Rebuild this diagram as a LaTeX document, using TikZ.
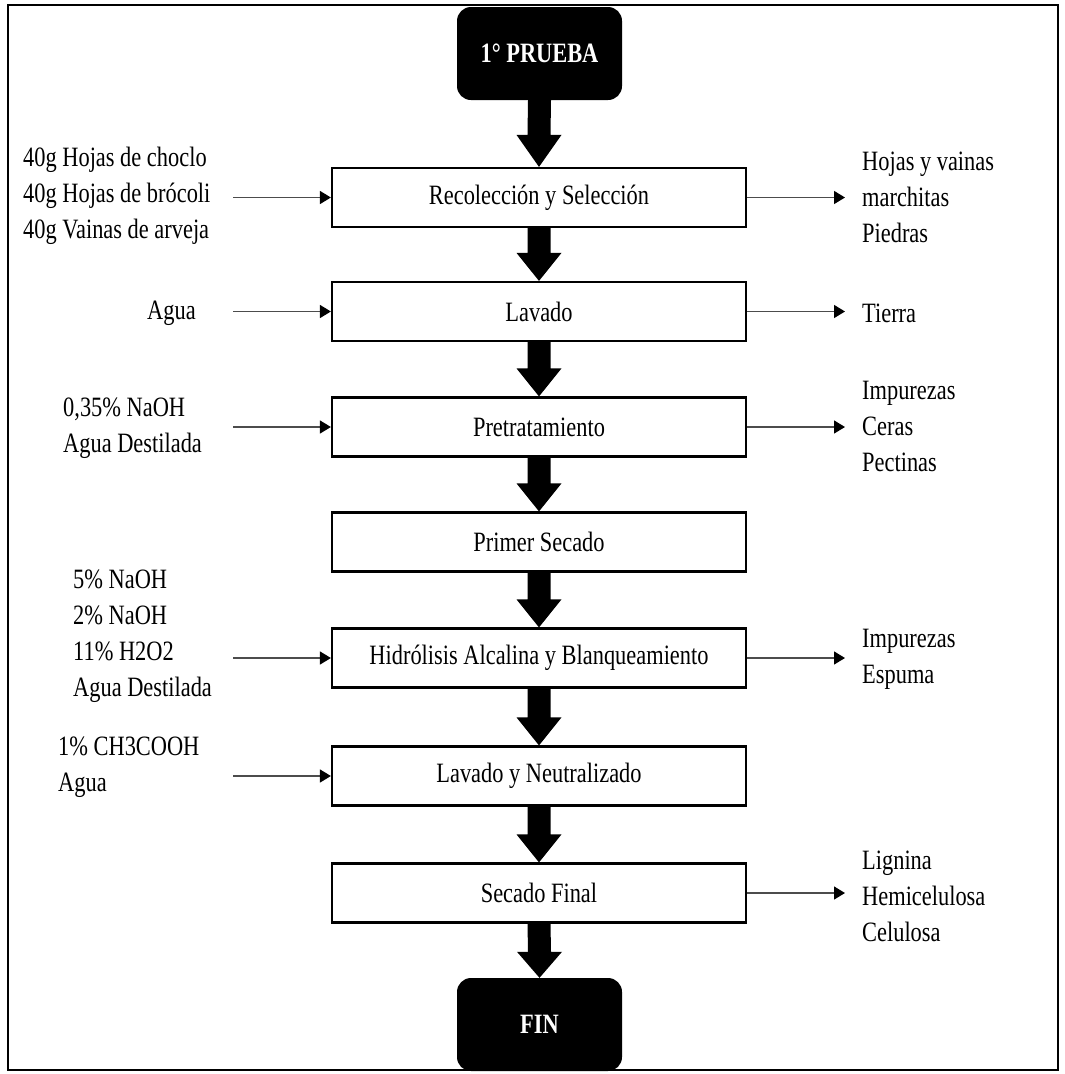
\documentclass[tikz,border=0pt]{standalone}
\usepackage{fontspec}
\setmainfont{Liberation Serif}[FakeStretch=0.8]
\usepackage{graphicx}
\usetikzlibrary{calc,arrows.meta}
\newcommand\bigarr[3][28]{%
  \fill[black] ($(#2.south)+(-11.5,0)$) -- ($(#3.north)+(-11.5,-#1)$) -- ($(#3.north)+(-22.5,-#1)$) -- (#3.north) -- ($(#3.north)+(22.5,-#1)$) -- ($(#3.north)+(11.5,-#1)$) -- ($(#2.south)+(11.5,0)$) -- cycle;}
\begin{document}
\begin{tikzpicture}[x=1pt,y=-1pt,
  every node/.style={font=\fontsize{28}{36}\selectfont},
  procbox/.style={draw, line width=2.2pt, minimum width=414pt, minimum height=59pt, inner sep=0pt, fill=white},
  termbox/.style={fill=black, rounded corners=14pt, minimum width=165pt, minimum height=93pt, text=white, inner sep=0pt, font=\fontsize{28}{30}\selectfont\bfseries},
  sidetxt/.style={anchor=west, align=left, inner sep=0pt},
  thinarr/.style={draw=black!70, line width=1.4pt, -{Triangle[length=11pt,width=13pt,color=black]}}]
\useasboundingbox (0,0) rectangle (1065,1074);
\draw[line width=2pt] (8,5) rectangle (1058,1070);
% main column
\node[termbox] (start) at (539.5,53.5) {1° PRUEBA};
\node[procbox] (p1) at (539,197.5) {Recolección y Selección};
\node[procbox] (p2) at (539,311.5) {Lavado};
\node[procbox] (p3) at (539,427) {Pretratamiento};
\node[procbox] (p4) at (539,542) {Primer Secado};
\node[procbox] (p5) at (539,658) {Hidrólisis Alcalina y Blanqueamiento};
\node[procbox] (p6) at (539,776) {Lavado y Neutralizado};
\node[procbox] (p7) at (539,893) {Secado Final};
\node[termbox] (fin) at (539.5,1024.5) {FIN};
% big arrows
\bigarr[32]{start}{p1}
\bigarr{p1}{p2}
\bigarr{p2}{p3}
\bigarr{p3}{p4}
\bigarr{p4}{p5}
\bigarr{p5}{p6}
\bigarr{p6}{p7}
\bigarr[26]{p7}{fin}
% left inputs
\node[sidetxt] (i1) at (23,196) {40g Hojas de choclo\\40g Hojas de brócoli\\40g Vainas de arveja};
\node[sidetxt] (i2) at (147,313) {Agua};
\node[sidetxt] (i3) at (63,428) {0,35\% NaOH\\Agua Destilada};
\node[sidetxt] (i5) at (73,636) {5\% NaOH\\2\% NaOH\\11\% H2O2\\Agua Destilada};
\node[sidetxt] (i6) at (58,767) {1\% CH3COOH\\Agua};
\coordinate (a1) at (233,197.5);
\coordinate (a2) at (233,311.5);
\coordinate (a3) at (233,427);
\coordinate (a5) at (233,658);
\coordinate (a6) at (233,776);
\draw[thinarr] (a1) -- (p1.west);
\draw[thinarr] (a2) -- (p2.west);
\draw[thinarr] (a3) -- (p3.west);
\draw[thinarr] (a5) -- (p5.west);
\draw[thinarr] (a6) -- (p6.west);
% right outputs
\node[sidetxt] (o1) at (862,197) {Hojas y vainas\\marchitas\\Piedras};
\node[sidetxt] (o2) at (862,313) {Tierra};
\node[sidetxt] (o3) at (862,426) {Impurezas\\Ceras\\Pectinas};
\node[sidetxt] (o5) at (862,659) {Impurezas\\Espuma};
\node[sidetxt] (o7) at (862,896) {Lignina\\Hemicelulosa\\Celulosa};
\coordinate (b1) at (845,197.5);
\coordinate (b2) at (845,311.5);
\coordinate (b3) at (845,427);
\coordinate (b5) at (845,658);
\coordinate (b7) at (845,893);
\draw[thinarr] (p1.east) -- (b1);
\draw[thinarr] (p2.east) -- (b2);
\draw[thinarr] (p3.east) -- (b3);
\draw[thinarr] (p5.east) -- (b5);
\draw[thinarr] (p7.east) -- (b7);
\end{tikzpicture}
\end{document}
